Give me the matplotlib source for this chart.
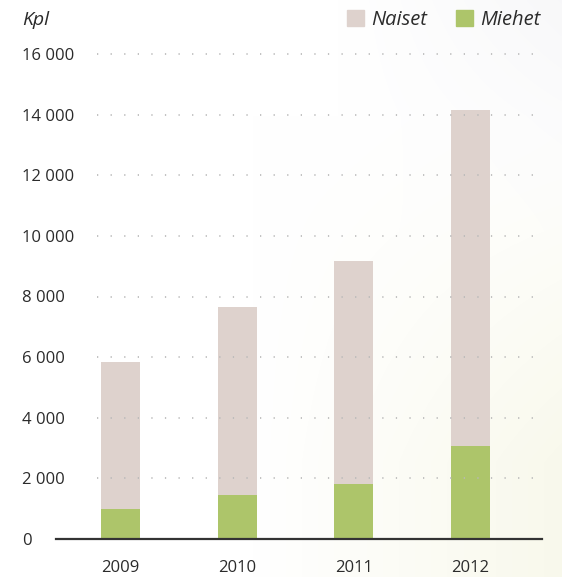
import numpy as np
import matplotlib
matplotlib.use("Agg")
import matplotlib.pyplot as plt
from matplotlib.patches import Patch

years = ["2009", "2010", "2011", "2012"]
miehet = [990, 1450, 1810, 3055]
totals = [5835, 7670, 9155, 14165]
naiset = [t - m for t, m in zip(totals, miehet)]
yticks = [0, 2000, 4000, 6000, 8000, 10000, 12000, 14000, 16000]
ytick_labels = ["0", "2 000", "4 000", "6 000", "8 000", "10 000", "12 000", "14 000", "16 000"]

c_naiset = "#ded2cd"
c_miehet = "#adc56a"
txt = "#2b2b2b"
FONT = "Open Sans"

W, H = 562, 577
fig = plt.figure(figsize=(W / 100, H / 100), dpi=100)

# subtle background gradient
bg = fig.add_axes([0, 0, 1, 1], zorder=-10)
yy, xx = np.mgrid[0:H, 0:W]
xn = xx / W
yn = yy / H
yel = np.clip((xn - 0.45) / 0.55, 0, 1) * np.clip((yn - 0.2) / 0.6, 0, 1)
gry = np.clip((xn - 0.6) / 0.4, 0, 1) * np.clip(1 - yn / 0.4, 0, 1)
img = np.ones((H, W, 3))
cream = np.array([0.975, 0.975, 0.925])
grey = np.array([0.972, 0.972, 0.977])
img = img * (1 - yel[..., None]) + cream * yel[..., None]
img = img * (1 - gry[..., None]) + grey * gry[..., None]
bg.imshow(img, aspect="auto", extent=[0, 1, 0, 1])
bg.axis("off")

# axes in pixel geometry
left_px, right_px = 56, 542
bottom_px, top_px = 539, 54
ax = fig.add_axes([left_px / W, 1 - bottom_px / H, (right_px - left_px) / W, (bottom_px - top_px) / H])
ax.patch.set_alpha(0)

x = np.arange(len(years))
spacing = 116.7
x0 = 120.5
ax.set_xlim((left_px - x0) / spacing, (right_px - x0) / spacing)
ax.set_ylim(0, 16000)

ax.bar(x, miehet, width=0.335, color=c_miehet, zorder=2, label="Miehet")
ax.bar(x, naiset, bottom=miehet, width=0.335, color=c_naiset, zorder=2, label="Naiset")

gx0 = (97 - x0) / spacing
gx1 = (533 - x0) / spacing
ax.hlines(yticks[1:], gx0, gx1, colors="#b8b8b8", linewidth=1.2,
          linestyles=[(0, (0.75, 7.4))], zorder=3, clip_on=False)

for s in ["top", "right", "left"]:
    ax.spines[s].set_visible(False)
ax.spines["bottom"].set_color("#333333")
ax.spines["bottom"].set_linewidth(1.6)
ax.spines["bottom"].set_zorder(4)

ax.set_yticks(yticks)
ax.set_yticklabels(ytick_labels)
ax.set_xticks(x)
ax.set_xticklabels(years)
ax.tick_params(axis="both", length=0, labelsize=12, labelcolor=txt)
ax.tick_params(axis="y", pad=(left_px - 22) * 0.72)
ax.tick_params(axis="x", pad=15)
for lab in ax.get_yticklabels():
    lab.set_horizontalalignment("left")
for lab in ax.get_yticklabels() + ax.get_xticklabels():
    lab.set_fontfamily(FONT)

fig.text(22 / W, 1 - 20 / H, "Kpl", fontsize=14, style="italic", family=FONT,
         color=txt, va="center", ha="left")

handles = [Patch(color=c_naiset), Patch(color=c_miehet)]
leg = fig.legend(handles, ["Naiset", "Miehet"], ncol=2, frameon=False,
                 loc="center right", bbox_to_anchor=(548 / W, 1 - 20 / H),
                 handlelength=0.85, handleheight=0.85, handletextpad=0.35,
                 columnspacing=1.4, borderaxespad=0,
                 prop={"family": FONT, "style": "italic", "size": 14.5})
for t in leg.get_texts():
    t.set_color(txt)

fig.savefig("out.png", dpi=100)
